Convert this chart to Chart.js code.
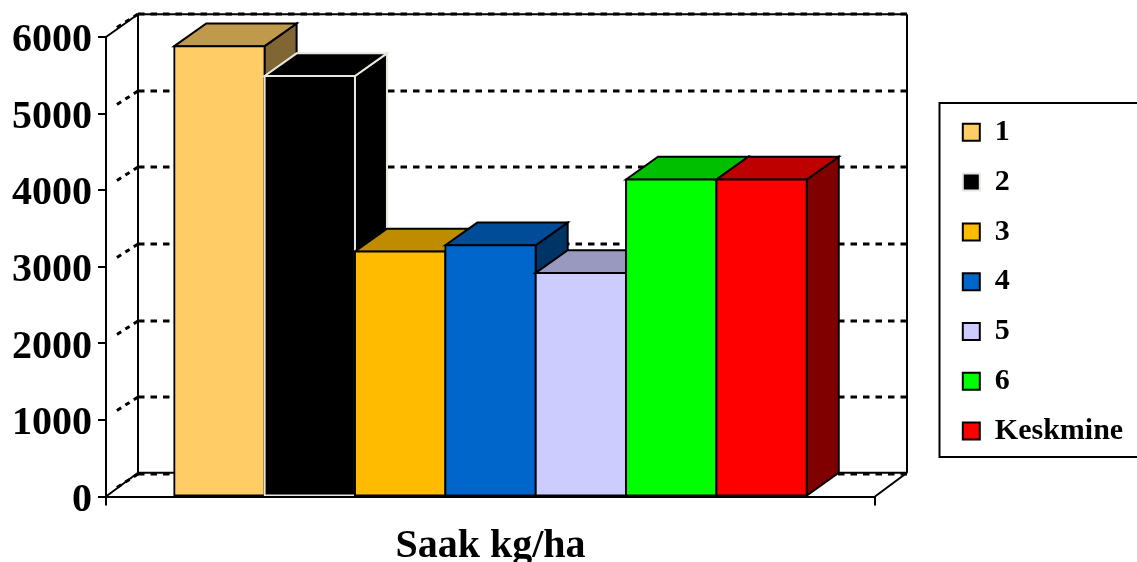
<!DOCTYPE html>
<html>
<head>
<meta charset="utf-8">
<style>
  html, body { margin: 0; padding: 0; background: #fff; }
  canvas { display: block; }
</style>
<script src="https://cdn.jsdelivr.net/npm/chart.js@4"></script>
</head>
<body>
<canvas id="myChart" width="1137" height="562"></canvas>
<script>
const category = ["Saak kg/ha"];
const seriesNames = ["1", "2", "3", "4", "5", "6", "Keskmine"];
const seriesValues = [5880, 5490, 3200, 3280, 2920, 4140, 4140];
const frontColors = ["#FFCC66", "#000000", "#FFBB00", "#0066CC", "#CCCCFF", "#00FF00", "#FF0000"];
const topColors = ["#BF994C", "#000000", "#BF8C00", "#004C99", "#9999BF", "#00BF00", "#BF0000"];
const sideColors = ["#806633", "#000000", "#805E00", "#003366", "#666680", "#008000", "#800000"];
const edgeColors = ["#000000", "#E8E8E0", "#000000", "#000000", "#000000", "#000000", "#000000"];

const depthX = 32;
const depthY = 22.7;
const serif = "'Liberation Serif', 'Times New Roman', serif";

function poly(ctx, pts, fill, stroke) {
  ctx.beginPath();
  ctx.moveTo(pts[0][0], pts[0][1]);
  for (let i = 1; i < pts.length; i++) {
    ctx.lineTo(pts[i][0], pts[i][1]);
  }
  ctx.closePath();
  if (fill) {
    ctx.fillStyle = fill;
    ctx.fill();
  }
  ctx.strokeStyle = stroke;
  ctx.lineWidth = 2;
  ctx.lineJoin = "miter";
  ctx.stroke();
}

function line(ctx, x1, y1, x2, y2, width, dash) {
  ctx.beginPath();
  ctx.setLineDash(dash || []);
  ctx.strokeStyle = "#000";
  ctx.lineWidth = width;
  ctx.moveTo(x1, y1);
  ctx.lineTo(x2, y2);
  ctx.stroke();
  ctx.setLineDash([]);
}

// walls, floor and the side/top faces of the bars
const box3d = {
  id: "box3d",
  beforeLayout(chart) {
    const legend = chart.legend;
    if (legend && !legend.wrapped) {
      const fit = legend.fit;
      legend.fit = function () {
        fit.call(this);
        this.width = 262;
      };
      legend.wrapped = true;
    }
  },
  afterLayout(chart) {
    const legend = chart.legend;
    legend.left = 943;
    legend.right = 1137;
    legend.top = 97.5;
  },
  beforeDraw(chart) {
    const ctx = chart.ctx;
    ctx.save();
    ctx.strokeStyle = "#000";
    ctx.lineWidth = 2;
    ctx.beginPath();
    ctx.moveTo(1138, 103);
    ctx.lineTo(939.5, 103);
    ctx.lineTo(939.5, 457);
    ctx.lineTo(1138, 457);
    ctx.stroke();
    ctx.restore();
  },
  beforeDatasetsDraw(chart) {
    const ctx = chart.ctx;
    const area = chart.chartArea;
    const y = chart.scales.y;
    const backL = area.left + depthX;
    const backR = area.right + depthX;
    ctx.save();
    // back wall
    line(ctx, backL, area.top - depthY, backR, area.top - depthY, 2);
    line(ctx, backL, area.top - depthY, backL, area.bottom - depthY - 1, 2);
    line(ctx, backR, area.top - depthY, backR, area.bottom - depthY - 1, 2);
    // floor and left wall edges
    line(ctx, backL, area.bottom - depthY - 1, backR, area.bottom - depthY - 1, 2);
    line(ctx, area.left, area.bottom, backL, area.bottom - depthY - 1, 2);
    line(ctx, area.right, area.bottom, backR, area.bottom - depthY - 1, 2);
    line(ctx, area.left, area.top, backL, area.top - depthY, 2);
    // dotted grid on the back wall and the left wall
    y.ticks.forEach(function (t) {
      const py = Math.round(y.getPixelForValue(t.value) - depthY);
      line(ctx, backL, py, backR, py, 3, [6.5, 6]);
      line(ctx, backL, py, area.left + 7, py + 16, 3, [5, 5]);
    });
    // end ticks of the category axis
    line(ctx, area.left, area.bottom, area.left, area.bottom + 9, 2);
    line(ctx, area.right, area.bottom, area.right, area.bottom + 9, 2);
    ctx.restore();
  },
  // the library paints the first dataset last, here the left bars have to go first
  beforeDatasetDraw() {
    return false;
  },
  afterDatasetsDraw(chart) {
    const ctx = chart.ctx;
    seriesNames.forEach(function (name, i) {
      const bar = chart.getDatasetMeta(i).data[0];
      const half = bar.width / 2;
      const l = bar.x - half;
      const r = bar.x + half;
      const t = bar.y;
      const b = bar.base;
      ctx.save();
      poly(ctx, [[r, t], [r + depthX, t - depthY], [r + depthX, b - depthY], [r, b]], sideColors[i], edgeColors[i]);
      poly(ctx, [[l, t], [l + depthX, t - depthY], [r + depthX, t - depthY], [r, t]], topColors[i], edgeColors[i]);
      ctx.restore();
      bar.draw(ctx);
    });
  }
};

const datasets = seriesNames.map(function (name, i) {
  return {
    label: name,
    data: [seriesValues[i]],
    backgroundColor: frontColors[i],
    borderColor: edgeColors[i],
    borderWidth: 2,
    borderSkipped: false,
    inflateAmount: 1
  };
});

new Chart(document.getElementById("myChart"), {
  type: "bar",
  data: { labels: category, datasets: datasets },
  plugins: [box3d],
  options: {
    responsive: false,
    animation: false,
    layout: { padding: { top: 37 } },
    categoryPercentage: 0.8225,
    barPercentage: 1,
    scales: {
      x: {
        afterFit(scale) { scale.height = 65.5; },
        grid: { drawOnChartArea: false, drawTicks: false, color: "#000" },
        border: { color: "#000", width: 2, z: 1 },
        ticks: { display: false },
        title: {
          display: true,
          text: "Saak kg/ha",
          color: "#000",
          padding: { top: 0, bottom: -5 },
          font: { family: serif, size: 40, weight: "bold", lineHeight: 1 }
        }
      },
      y: {
        min: 0,
        max: 6000,
        afterFit(scale) { scale.width = 106; },
        grid: { drawOnChartArea: false, color: "#000", lineWidth: 2, tickLength: 8 },
        border: { color: "#000", width: 2 },
        ticks: {
          stepSize: 1000,
          color: "#000",
          padding: 6,
          labelOffset: 4,
          callback: function (v) { return String(v); },
          font: { family: serif, size: 40, weight: "bold" }
        }
      }
    },
    plugins: {
      tooltip: { enabled: false },
      legend: {
        position: "right",
        align: "start",
        labels: {
          boxWidth: 17,
          boxHeight: 17,
          padding: 19.8,
          color: "#000",
          font: { family: serif, size: 30, weight: "bold" }
        }
      }
    }
  }
});
</script>
</body>
</html>
